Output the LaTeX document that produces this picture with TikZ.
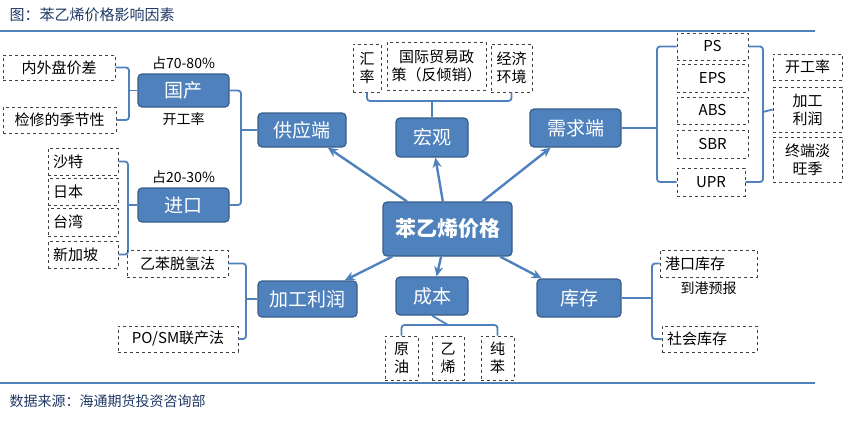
\documentclass[tikz,border=0pt]{standalone}
\usepackage{fontspec}
\setmainfont{Noto Sans CJK SC}
\usetikzlibrary{positioning,arrows.meta}
\definecolor{boxblue}{HTML}{4F81BD}
\definecolor{boxedge}{HTML}{385D8A}
\definecolor{titleblue}{HTML}{1F3864}
\tikzset{
  main/.style={draw=boxedge, fill=boxblue, rounded corners=4pt, line width=1.2pt,
    text=white, font=\fontsize{19}{21}\selectfont, inner sep=0pt},
  factor/.style={draw=black!75, dashed, line width=0.9pt, inner sep=0pt,
    font=\fontsize{15}{18}\selectfont, align=center},
  note/.style={font=\fontsize{14}{16}\selectfont, inner sep=0pt},
  brace/.style={draw=boxblue, line width=1.8pt, rounded corners=3pt},
  link/.style={draw=boxblue, line width=2.4pt, -{Stealth[length=10pt,width=9pt]}},
}
\begin{document}
\begin{tikzpicture}[x=1pt, y=-1pt]
  \useasboundingbox (0,0) rectangle (850,420);
  % title and source
  \node[anchor=west, text=titleblue, font=\fontsize{15}{17}\selectfont] (title) at (6,15) {图：苯乙烯价格影响因素};
  \draw[boxblue, line width=1.5pt] (0,31) -- (815,31);
  \draw[boxblue, line width=1.5pt] (0,383) -- (815,383);
  \node[anchor=west, text=titleblue, font=\fontsize{14}{16}\selectfont] (src) at (6,401) {数据来源：海通期货投资咨询部};

  % main boxes
  \node[main, minimum width=129pt, minimum height=54pt, font=\bfseries\fontsize{21}{23}\selectfont] (price) at (447.5,229) {苯乙烯价格};
  \node[main, minimum width=88pt, minimum height=34pt] (supply) at (302,130) {供应端};
  \node[main, minimum width=72pt, minimum height=39pt] (macro) at (432,137.5) {宏观};
  \node[main, minimum width=91pt, minimum height=38pt] (demand) at (575.5,128) {需求端};
  \node[main, minimum width=99pt, minimum height=36pt] (profit) at (307.5,299) {加工利润};
  \node[main, minimum width=72pt, minimum height=38pt] (cost) at (432,296) {成本};
  \node[main, minimum width=84pt, minimum height=38pt] (stock) at (579,298) {库存};
  \node[main, minimum width=91pt, minimum height=33pt] (dom) at (183.5,90.5) {国产};
  \node[main, minimum width=91pt, minimum height=34pt] (imp) at (183.5,205) {进口};
  \node[note, above=4pt of dom] (domshare) {占70-80\%};
  \node[note, below=5pt of dom] (domrate) {开工率};
  \node[note, above=4pt of imp] (impshare) {占20-30\%};

  % arrows from the center
  \foreach \t in {supply,macro,demand,profit,cost,stock}
    \draw[link] (price) -- (\t);

  % domestic
  \node[factor, minimum width=112pt, minimum height=25pt] (spread) at (59,67.5) {内外盘价差};
  \node[factor, minimum width=113pt, minimum height=26pt] (season) at (59.5,120) {检修的季节性};
  \draw[brace] (spread.east) -| (129,90.5) |- (season.east);
  \draw[brace] (129,90.5) -- (dom.west);

  % import
  \node[factor, minimum width=70pt, minimum height=27pt, text width=60pt, align=left] (saudi) at (83,161.5) {沙特};
  \node[factor, minimum width=70pt, minimum height=27pt, text width=60pt, align=left] (japan) at (83,191.5) {日本};
  \node[factor, minimum width=70pt, minimum height=28pt, text width=60pt, align=left] (taiwan) at (83,222) {台湾};
  \node[factor, minimum width=70pt, minimum height=27pt, text width=60pt, align=left] (sing) at (83,254.5) {新加坡};
  \draw[brace] (saudi.east) -| (128,205) |- (sing.east);
  \draw[brace] (128,205) -- (imp.west);

  % supply
  \draw[brace] (dom.east) -| (241,130) |- (imp.east);
  \draw[brace] (241,130) -- (supply.west);

  % profit
  \node[factor, minimum width=101pt, minimum height=27pt] (eb) at (177.5,263.5) {乙苯脱氢法};
  \node[factor, minimum width=120pt, minimum height=26pt] (posm) at (178,339) {PO/SM联产法};
  \draw[brace] (eb.east) -| (246,299) |- (posm.east);
  \draw[brace] (246,299) -- (profit.west);

  % macro
  \node[factor, minimum width=28pt, minimum height=48pt, text width=16pt] (rate) at (367,68) {汇\\率};
  \node[factor, minimum width=99pt, minimum height=48pt] (policy) at (436.5,66) {国际贸易政\\策（反倾销）};
  \node[factor, minimum width=41pt, minimum height=48pt] (econ) at (511.5,68) {经济\\环境};
  \draw[brace] (rate.south) |- (432,101) -| (econ.south);
  \draw[brace] (432,101) -- (macro.north);

  % cost
  \node[factor, minimum width=33pt, minimum height=44pt] (crude) at (401.5,358) {原\\油};
  \node[factor, minimum width=32pt, minimum height=44pt] (eth) at (448,358) {乙\\烯};
  \node[factor, minimum width=33pt, minimum height=44pt] (benz) at (497.5,358) {纯\\苯};
  \draw[brace] (crude.north) |- (448,325) -| (benz.north);
  \draw[brace] (448,325) -- (cost.south);

  % demand
  \node[factor, minimum width=71pt, minimum height=27pt] (ps) at (712.5,46.5) {PS};
  \node[factor, minimum width=71pt, minimum height=28pt] (eps) at (712.5,78) {EPS};
  \node[factor, minimum width=71pt, minimum height=27pt] (abs) at (712.5,110.5) {ABS};
  \node[factor, minimum width=71pt, minimum height=28pt] (sbr) at (712.5,144) {SBR};
  \node[factor, minimum width=68pt, minimum height=28pt] (upr) at (711,182) {UPR};
  \draw[brace] (ps.west) -| (657,128) |- (upr.west);
  \draw[brace] (657,128) -- (demand.east);
  \node[factor, minimum width=69pt, minimum height=26pt] (drate) at (807.5,67) {开工率};
  \node[factor, minimum width=69pt, minimum height=45pt] (dprofit) at (807.5,109.5) {加工\\利润};
  \node[factor, minimum width=69pt, minimum height=45pt] (dseason) at (807.5,159.5) {终端淡\\旺季};
  \draw[brace] (ps.east) -| (763,112) |- (upr.east);
  \draw[brace] (763,112) -- (dprofit.west);

  % stock
  \node[factor, minimum width=97pt, minimum height=27pt, text width=87pt, align=left] (port) at (708.5,263.5) {港口库存};
  \node[note, below=4pt of port] (arrive) {到港预报};
  \node[factor, minimum width=95pt, minimum height=26pt, text width=85pt, align=left] (social) at (709.5,339) {社会库存};
  \draw[brace] (port.west) -| (652,298) |- (social.west);
  \draw[brace] (652,298) -- (stock.east);
\end{tikzpicture}
\end{document}
